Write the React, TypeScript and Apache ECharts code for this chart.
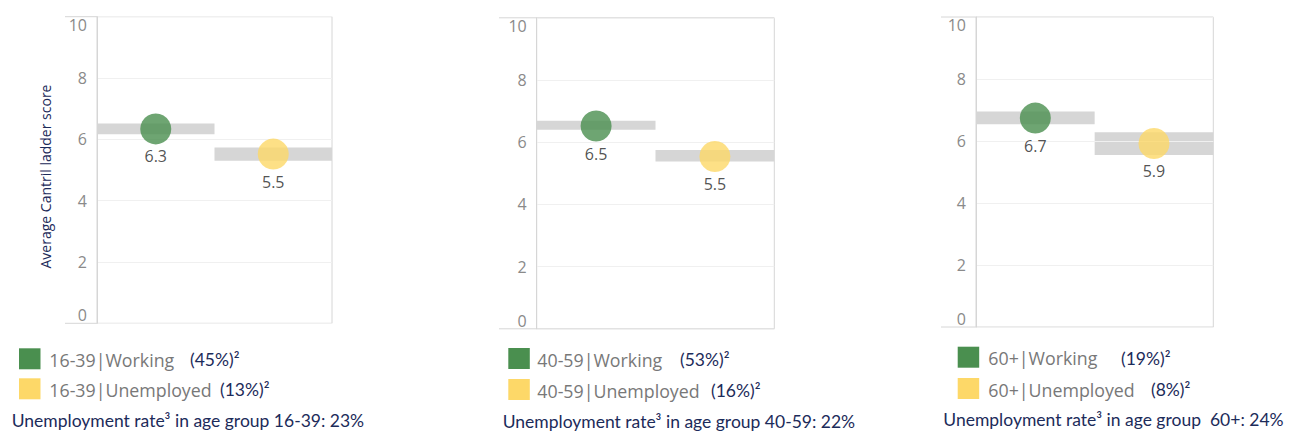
import React, { useEffect, useRef } from "react";
import * as echarts from "echarts";

// ---- data ----
const categories = ["Working", "Unemployed"];
const ageGroups = ["16-39", "40-59", "60+"];
const workingMeans = [6.34, 6.52, 6.74];
const unemployedMeans = [5.52, 5.54, 5.92];
const workingLow = [6.17, 6.4, 6.54];
const workingHigh = [6.52, 6.69, 6.95];
const unemployedLow = [5.3, 5.38, 5.55];
const unemployedHigh = [5.73, 5.75, 6.28];
const workingShare = ["45%", "53%", "19%"];
const unemployedShare = ["13%", "16%", "8%"];
const unemploymentRate = ["23%", "22%", "24%"];
const yTicks = { min: 0, max: 10, interval: 2 };
const yAxisTitle = "Average Cantril ladder score";

// ---- layout / style ----
const GREEN = "#4a8f4f";
const YELLOW = "#fdd868";
const BAND = "#d6d6d6";
const NAVY = "#1c2b5a";
const GRAYTXT = "#787878";
const FRAME = "#d6d6d6";

const grids = [
  { left: 97, top: 16.7, width: 235, height: 306.6, frameLeft: 65 },
  { left: 536.7, top: 17.8, width: 237.6, height: 311, frameLeft: 499 },
  { left: 976, top: 17, width: 237.3, height: 310, frameLeft: 941 },
];
const legendPos = [
  { sqX: 19, sqY1: 348.3, sqY2: 378.3, txtX: 49.3, pX1: 190, pX2: 220, footX: 11.7, footY: 420 },
  { sqX: 508.3, sqY1: 348, sqY2: 379, txtX: 537.3, pX1: 680, pX2: 711, footX: 502.7, footY: 421.8 },
  { sqX: 957.7, sqY1: 346.7, sqY2: 378, txtX: 988.3, pX1: 1121, pX2: 1151, footX: 943.3, footY: 419.7 },
];

const TICK_FONT = "'Open Sans', sans-serif";
const LEG_FONT = "'Open Sans', sans-serif";
const FOOT_FONT = "Lato, sans-serif";

export default function App() {
  const ref = useRef<HTMLDivElement | null>(null);

  useEffect(() => {
    if (!ref.current) return;
    const chart = echarts.init(ref.current, undefined, { renderer: "svg" });

    const grid: any[] = [];
    const xAxis: any[] = [];
    const yAxis: any[] = [];
    const series: any[] = [];
    const graphic: any[] = [];

    graphic.push({
      type: "text",
      x: 45.7,
      y: 176.5,
      rotation: Math.PI / 2,
      style: {
        text: yAxisTitle,
        fill: NAVY,
        fontSize: 14,
        fontFamily: "'Open Sans', sans-serif",
        align: "center",
        verticalAlign: "middle",
      },
      silent: true,
    });

    ageGroups.forEach((ag, i) => {
      const g = grids[i];
      grid.push({
        left: g.left,
        top: g.top,
        width: g.width,
        height: g.height,
        show: true,
        borderColor: FRAME,
        borderWidth: 1,
        containLabel: false,
      });
      xAxis.push({
        type: "category",
        gridIndex: i,
        data: categories,
        boundaryGap: true,
        axisLine: { show: false },
        axisTick: { show: false },
        axisLabel: { show: false },
        splitLine: { show: false },
      });
      yAxis.push({
        type: "value",
        gridIndex: i,
        min: yTicks.min,
        max: yTicks.max,
        interval: yTicks.interval,
        z: 3,
        axisLine: { show: true, lineStyle: { color: FRAME, width: 1 } },
        axisTick: { show: false },
        splitLine: { show: true, lineStyle: { color: "#f0f0f0", width: 1 } },
        axisLabel: {
          color: "#8a8a8a",
          fontSize: 16,
          fontFamily: TICK_FONT,
          margin: 10,
          verticalAlignMinLabel: "bottom",
          verticalAlignMaxLabel: "top",
        },
      });

      const lows = [workingLow[i], unemployedLow[i]];
      const highs = [workingHigh[i], unemployedHigh[i]];
      series.push({
        type: "bar",
        name: `base-${ag}`,
        xAxisIndex: i,
        yAxisIndex: i,
        stack: `ci-${i}`,
        data: lows,
        barWidth: "100%",
        barCategoryGap: 0,
        itemStyle: { color: "transparent" },
        silent: true,
        z: 2,
      });
      series.push({
        type: "bar",
        name: `ci-${ag}`,
        xAxisIndex: i,
        yAxisIndex: i,
        stack: `ci-${i}`,
        data: highs.map((h, k) => +(h - lows[k]).toFixed(3)),
        barWidth: "100%",
        barCategoryGap: 0,
        itemStyle: { color: BAND },
        silent: true,
        z: 2,
      });
      series.push({
        type: "scatter",
        name: `mean-${ag}`,
        xAxisIndex: i,
        yAxisIndex: i,
        symbol: "circle",
        symbolSize: 31,
        z: 5,
        data: [
          { value: [categories[0], workingMeans[i]], itemStyle: { color: GREEN } },
          { value: [categories[1], unemployedMeans[i]], itemStyle: { color: YELLOW } },
        ],
        label: {
          show: true,
          position: "bottom",
          distance: 4,
          color: "#262626",
          fontSize: 16,
          fontFamily: TICK_FONT,
          formatter: (p: any) => Number(p.value[1]).toFixed(1),
        },
      });

      // frame extensions to the left of the axis line
      graphic.push({
        type: "line",
        shape: { x1: g.frameLeft, y1: g.top, x2: g.left, y2: g.top },
        style: { stroke: FRAME, lineWidth: 1 },
        silent: true,
      });
      graphic.push({
        type: "line",
        shape: { x1: g.frameLeft, y1: g.top + g.height, x2: g.left, y2: g.top + g.height },
        style: { stroke: FRAME, lineWidth: 1 },
        silent: true,
      });

      // legend
      const L = legendPos[i];
      graphic.push({
        type: "rect",
        shape: { x: L.sqX, y: L.sqY1, width: 21.5, height: 21 },
        style: { fill: GREEN },
        silent: true,
      });
      graphic.push({
        type: "rect",
        shape: { x: L.sqX, y: L.sqY2, width: 21.5, height: 21 },
        style: { fill: YELLOW },
        silent: true,
      });
      graphic.push({
        type: "text",
        x: L.txtX,
        y: L.sqY1 + 11.5,
        style: {
          text: `${ag}|${categories[0]}`,
          fill: GRAYTXT,
          fontSize: 17.8,
          fontFamily: LEG_FONT,
          align: "left",
          verticalAlign: "middle",
        },
        silent: true,
      });
      graphic.push({
        type: "text",
        x: L.txtX,
        y: L.sqY2 + 11.5,
        style: {
          text: `${ag}|${categories[1]}`,
          fill: GRAYTXT,
          fontSize: 17.8,
          fontFamily: LEG_FONT,
          align: "left",
          verticalAlign: "middle",
        },
        silent: true,
      });
      graphic.push({
        type: "text",
        x: L.pX1,
        y: L.sqY1 + 11.5,
        style: {
          text: `(${workingShare[i]})²`,
          fill: NAVY,
          fontSize: 17.5,
          fontFamily: FOOT_FONT,
          align: "left",
          verticalAlign: "middle",
        },
        silent: true,
      });
      graphic.push({
        type: "text",
        x: L.pX2,
        y: L.sqY2 + 11.5,
        style: {
          text: `(${unemployedShare[i]})²`,
          fill: NAVY,
          fontSize: 17.5,
          fontFamily: FOOT_FONT,
          align: "left",
          verticalAlign: "middle",
        },
        silent: true,
      });
      graphic.push({
        type: "text",
        x: L.footX,
        y: L.footY,
        style: {
          text: `Unemployment rate³ in age group ${ag === "60+" ? " " : ""}${ag}: ${unemploymentRate[i]}`,
          fill: NAVY,
          fontSize: 17.5,
          fontFamily: FOOT_FONT,
          align: "left",
          verticalAlign: "middle",
        },
        silent: true,
      });
    });

    chart.setOption({
      animation: false,
      backgroundColor: "#ffffff",
      grid,
      xAxis,
      yAxis,
      series,
      graphic,
    });

    return () => chart.dispose();
  }, []);

  return (
    <div
      ref={ref}
      style={{ position: "fixed", left: 0, top: 0, width: 1290, height: 432 }}
    />
  );
}
